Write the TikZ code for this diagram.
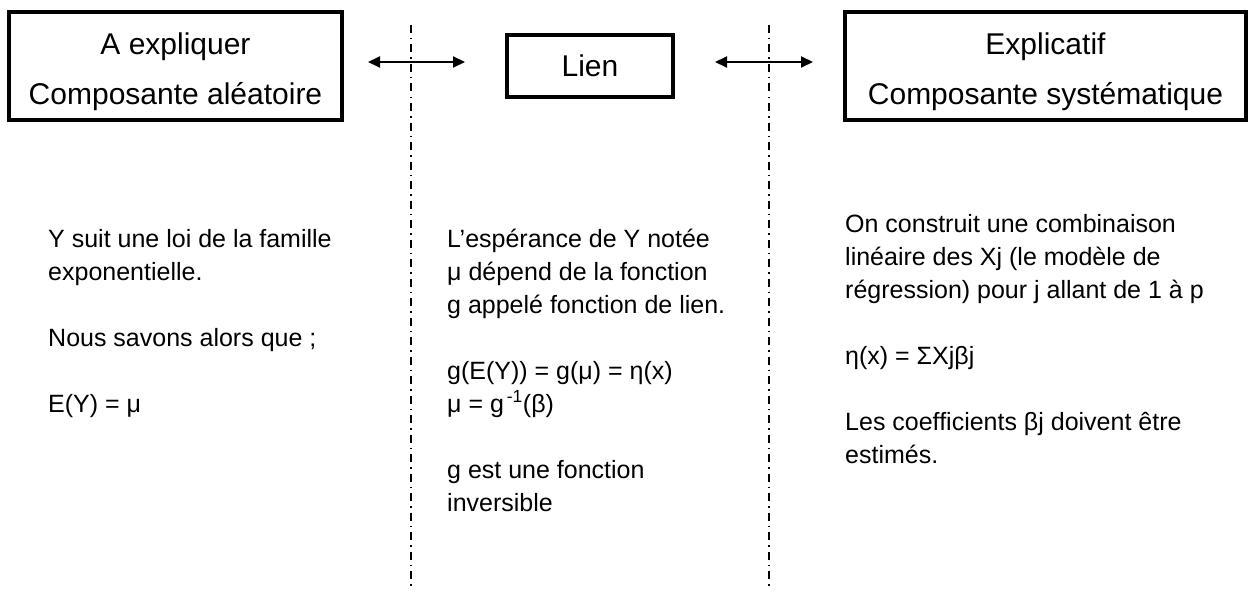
\documentclass[tikz,border=0pt]{standalone}
\usepackage{fontspec}
\setmainfont{Liberation Sans}
\usetikzlibrary{arrows.meta}
\begin{document}
\begin{tikzpicture}[x=1pt,y=-1pt,
  box/.style={draw, line width=3.2pt, inner sep=0pt},
  head/.style={font=\fontsize{30}{36}\selectfont, anchor=base, inner sep=0pt},
  body/.style={font=\fontsize{25}{30}\selectfont, anchor=base west, inner sep=0pt},
  sepline/.style={line width=1.4pt, dash pattern=on 8pt off 5pt on 1.5pt off 5pt},
  link/.style={line width=2pt, {Triangle[length=12pt,width=11pt]}-{Triangle[length=12pt,width=11pt]}}]
\useasboundingbox (0,0) rectangle (1248,594);
% boxes
\node[box, minimum width=333pt, minimum height=108pt] (b1) at (175.5,66) {};
\node[head] (b1a) at (175.5,55) {A expliquer};
\node[head] (b1b) at (175.5,104) {Composante aléatoire};
\node[box, minimum width=166pt, minimum height=62pt, font=\fontsize{30}{36}\selectfont] (lien) at (590,66) {Lien};
\node[box, minimum width=401pt, minimum height=108pt] (b3) at (1045.5,66) {};
\node[head] (b3a) at (1045.5,55) {Explicatif};
\node[head] (b3b) at (1045.5,104) {Composante systématique};
% arrows
\coordinate (la1) at (368,62);
\coordinate (la2) at (465,62);
\coordinate (ra1) at (715,62);
\coordinate (ra2) at (813,62);
\draw[link] (la1) -- (la2);
\draw[link] (ra1) -- (ra2);
% separators
\coordinate (d1t) at (411,25);
\coordinate (d1b) at (411,590);
\coordinate (d2t) at (769,25);
\coordinate (d2b) at (769,590);
\draw[sepline] (d1t) -- (d1b);
\draw[sepline] (d2t) -- (d2b);
% column 1
\node[body] (c1l1) at (48,247) {Y suit une loi de la famille};
\node[body] (c1l2) at (48,280) {exponentielle.};
\node[body] (c1l3) at (48,346) {Nous savons alors que ;};
\node[body] (c1l4) at (48,412) {E(Y) = μ};
% column 2
\node[body] (c2l1) at (447,247) {L’espérance de Y notée};
\node[body] (c2l2) at (447,280) {μ dépend de la fonction};
\node[body] (c2l3) at (447,313) {g appelé fonction de lien.};
\node[body] (c2l4) at (447,379) {g(E(Y)) = g(μ) = η(x)};
\node[body] (c2l5) at (447,412) {μ = g\textsuperscript{\,-1}(β)};
\node[body] (c2l6) at (447,478) {g est une fonction};
\node[body] (c2l7) at (447,511) {inversible};
% column 3
\node[body] (c3l1) at (845,232) {On construit une combinaison};
\node[body] (c3l2) at (845,265) {linéaire des Xj (le modèle de};
\node[body] (c3l3) at (845,298) {régression) pour j allant de 1 à p};
\node[body] (c3l4) at (845,364) {η(x) = ΣXjβj};
\node[body] (c3l5) at (845,430) {Les coefficients βj doivent être};
\node[body] (c3l6) at (845,463) {estimés.};
\end{tikzpicture}
\end{document}
